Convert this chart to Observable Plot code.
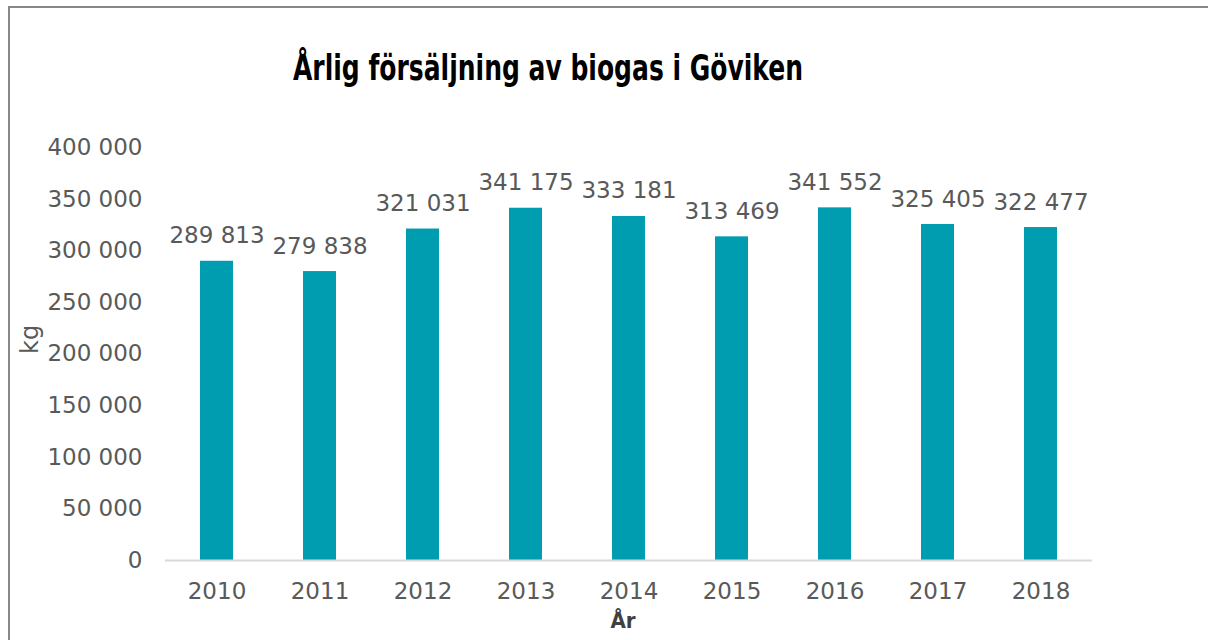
<!DOCTYPE html>
<html>
<head>
<meta charset="utf-8">
<script src="https://cdn.jsdelivr.net/npm/d3@7"></script>
<script src="https://cdn.jsdelivr.net/npm/@observablehq/plot@0.6"></script>
<style>
  html, body { margin: 0; padding: 0; background: #fff; }
  #wrap { position: relative; width: 1208px; height: 640px; overflow: hidden; }
  #border { position: absolute; left: 8px; top: 6px; width: 1200px; height: 640px;
            border-top: 2px solid #888; border-left: 2px solid #888; box-sizing: border-box; }
  #title { position: absolute; left: 0; top: 0; width: 1208px; height: 100px; }
  #chart { position: absolute; left: 0; top: 0; }
</style>
</head>
<body>
<div id="wrap">
  <div id="border"></div>
  <div id="chart"></div>
  <svg id="title" width="1208" height="100">
    <text x="548" y="80" text-anchor="middle" textLength="510" lengthAdjust="spacingAndGlyphs"
      style="font-family: 'Liberation Sans Narrow', 'Arial Narrow', 'DejaVu Sans Condensed', sans-serif; font-weight: bold; font-size: 35px; fill: #000;">Årlig försäljning av biogas i Göviken</text>
  </svg>
</div>
<script>
const years = ["2010", "2011", "2012", "2013", "2014", "2015", "2016", "2017", "2018"];
const sales = [289813, 279838, 321031, 341175, 333181, 313469, 341552, 325405, 322477];
const yTicks = [0, 50000, 100000, 150000, 200000, 250000, 300000, 350000, 400000];
const xLabel = "År";
const yLabel = "kg";

const data = years.map((y, i) => ({year: y, value: sales[i]}));
const fmt = v => d3.format(",")(v).replace(/,/g, " ");
const gray = "#595959";
const numFont = "DejaVu Sans, Verdana, sans-serif";

const plot = Plot.plot({
  width: 1208,
  height: 640,
  marginLeft: 165,
  marginRight: 116,
  marginTop: 147,
  marginBottom: 80,
  style: {fontFamily: numFont, background: "transparent"},
  x: {domain: years, paddingInner: 0.68, paddingOuter: 0.34},
  y: {domain: [0, 400000]},
  marks: [
    Plot.barY(data, {x: "year", y: "value", fill: "#009db0"}),
    Plot.ruleY([0], {stroke: "#d9d9d9", strokeWidth: 2}),
    Plot.axisY({ticks: yTicks, tickFormat: fmt, tickSize: 0, tickPadding: 23,
      fontSize: 23, fill: gray, label: null}),
    Plot.axisX({tickSize: 0, tickPadding: 22, fontSize: 23, fill: gray, label: null}),
    Plot.text(data, {x: "year", y: "value", text: d => fmt(d.value), dy: -18,
      lineAnchor: "bottom", fontSize: 23, fill: gray}),
    Plot.text([yLabel], {frameAnchor: "left", dx: -135, rotate: -90, fontSize: 24,
      fill: gray}),
    Plot.text([xLabel], {frameAnchor: "bottom", dy: 67, dx: -6, lineAnchor: "bottom",
      fontSize: 22, fontWeight: "bold", fill: "#404040",
      fontFamily: "'Liberation Sans Narrow', 'Arial Narrow', 'DejaVu Sans Condensed', sans-serif"})
  ]
});
document.getElementById("chart").appendChild(plot);
</script>
</body>
</html>
